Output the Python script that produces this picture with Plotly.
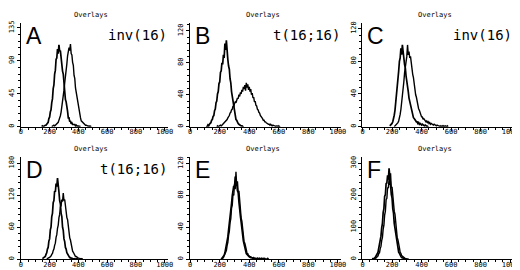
import plotly.graph_objects as go

# ---------------- data (histogram counts, channel step 5) ----------------
STEP = 5

# Panel A  inv(16)
a1_start = 145
a1 = [0, 1, 0, 1, 1, 2, 2, 3, 5, 6, 11, 13, 20, 23, 33, 38, 52, 57, 72, 77, 92, 94, 106, 100,
      112, 103, 104, 92, 91, 76, 72, 56, 52, 37, 34, 22, 21, 12, 12, 7, 8, 4, 5, 3, 3, 2, 3, 1,
      2, 1, 1, 0, 1, 0, 0]
a2_start = 215
a2 = [0, 1, 1, 2, 1, 2, 3, 3, 5, 6, 9, 11, 15, 20, 26, 33, 42, 50, 60, 67, 80, 86, 97, 101,
      108, 104, 113, 100, 98, 88, 84, 70, 66, 53, 47, 37, 31, 24, 19, 14, 12, 8, 7, 5, 4, 3,
      3, 2, 2, 1, 1, 1, 0, 1, 0, 0]

# Panel B  t(16;16)
b1_start = 110
b1 = [1, 0, 2, 1, 3, 4, 5, 8, 9, 13, 14, 20, 22, 30, 32, 41, 44, 54, 56, 68, 70, 80, 78, 90,
      86, 104, 96, 108, 88, 84, 76, 72, 60, 55, 44, 38, 29, 24, 17, 14, 9, 8, 5, 4, 3, 2, 2,
      1, 1, 0, 1]
b2_start = 180
b2 = [0, 1, 0, 1, 1, 2, 1, 2, 3, 3, 4, 5, 6, 8, 9, 11, 12, 14, 17, 18, 21, 22, 26, 25, 29,
      31, 30, 34, 36, 35, 40, 38, 43, 41, 46, 44, 50, 47, 52, 45, 55, 49, 53, 46, 50, 44, 47,
      40, 42, 36, 37, 31, 32, 27, 26, 22, 21, 18, 17, 14, 13, 11, 10, 8, 8, 6, 6, 5, 4, 4, 3,
      3, 2, 3, 2, 1, 2, 1, 1, 1, 0, 1, 1, 0, 1, 0, 0]

# Panel C  inv(16)
c1_start = 185
c1 = [1, 2, 2, 4, 6, 9, 14, 20, 28, 38, 48, 60, 68, 80, 84, 96, 88, 100, 86, 84, 76, 72, 62,
      57, 48, 43, 35, 31, 24, 21, 16, 14, 11, 10, 8, 7, 6, 6, 4, 5, 3, 4, 3, 2, 3, 2, 2, 1, 2,
      1, 1, 0, 1]
c2_start = 215
c2 = [0, 1, 1, 2, 3, 5, 7, 10, 15, 21, 28, 36, 46, 55, 66, 72, 84, 86, 100, 88, 92, 84, 86,
      76, 73, 64, 60, 50, 47, 39, 36, 29, 27, 22, 20, 16, 15, 12, 12, 9, 10, 8, 8, 6, 7, 5, 6,
      4, 5, 3, 4, 3, 3, 2, 3, 2, 2, 1, 2, 1, 1, 1, 0, 1, 0, 1, 0, 1, 0, 1, 0, 0, 1, 0]

# Panel D  t(16;16)
d1_start = 150
d1 = [1, 2, 2, 4, 5, 9, 12, 19, 22, 34, 38, 55, 60, 80, 86, 106, 110, 128, 126, 142, 136,
      152, 128, 126, 110, 104, 86, 80, 60, 54, 38, 33, 22, 19, 12, 10, 6, 5, 3, 3, 1, 2, 1, 1,
      0, 1, 0, 0, 1, 0, 0]
d2_start = 180
d2 = [1, 1, 2, 3, 3, 5, 6, 9, 11, 16, 19, 26, 30, 41, 46, 58, 64, 78, 84, 98, 100, 112, 108,
      124, 110, 112, 96, 94, 78, 74, 58, 52, 40, 36, 26, 22, 15, 13, 9, 8, 5, 5, 3, 3, 2, 2, 1,
      1, 0, 1, 0]

# Panel E
e1_start = 210
e1 = [0, 1, 2, 3, 5, 8, 12, 16, 23, 28, 37, 44, 53, 62, 70, 80, 84, 92, 90, 104, 94, 96, 86,
      84, 72, 66, 54, 47, 37, 31, 23, 19, 13, 11, 7, 6, 4, 4, 3, 2, 2, 2, 1, 1, 1, 1, 0, 1, 0,
      1, 0, 0, 1, 0, 0, 1, 0, 0, 0, 1, 0, 0, 0, 1, 0]
e2_start = 215
e2 = [1, 1, 2, 4, 5, 9, 11, 17, 21, 30, 35, 46, 51, 64, 68, 82, 80, 94, 88, 110, 92, 98, 84,
      86, 70, 68, 52, 48, 36, 32, 22, 20, 12, 12, 7, 7, 4, 4, 3, 3, 2, 2, 1, 2, 1, 1, 1, 0, 1,
      0, 1, 0, 0, 1, 0, 0, 1, 0]

# Panel F
f1_start = 65
f1 = [1, 1, 2, 3, 5, 8, 11, 17, 22, 34, 42, 60, 72, 98, 112, 146, 158, 196, 202, 236, 238,
      262, 248, 284, 236, 232, 202, 192, 158, 144, 112, 98, 72, 60, 42, 34, 22, 18, 10, 9, 5,
      4, 2, 2, 1, 1, 0, 1, 0]
f2_start = 75
f2 = [1, 2, 2, 4, 5, 9, 10, 18, 20, 33, 40, 58, 68, 94, 106, 138, 150, 186, 190, 224, 222,
      250, 232, 268, 222, 226, 190, 186, 150, 140, 106, 96, 68, 60, 40, 36, 21, 18, 11, 9, 5,
      4, 3, 2, 1, 1, 1, 0, 0]

panel_letters = ["A", "B", "C", "D", "E", "F"]
panel_labels = ["inv(16)", "t(16;16)", "inv(16)", "t(16;16)", "", ""]
x_ticks = [0, 200, 400, 600, 800, 1000]
y_ticks = [[0, 45, 90, 135], [0, 40, 80, 120], [0, 40, 80, 120],
           [0, 60, 120, 180], [0, 40, 80, 120], [0, 100, 200, 300]]
y_max = [142, 130, 127, 191, 128, 318]
series = [((a1_start, a1), (a2_start, a2)), ((b1_start, b1), (b2_start, b2)),
          ((c1_start, c1), (c2_start, c2)), ((d1_start, d1), (d2_start, d2)),
          ((e1_start, e1), (e2_start, e2)), ((f1_start, f1), (f2_start, f2))]

# ---------------- layout geometry (pixels) ----------------
W, H = 520, 270
col_px = [(11, 160), (183, 336), (358, 511)]
row_px = [(13, 118), (149, 252)]

fig = go.Figure()
mono = "DejaVu Sans Mono"

for i in range(6):
    r, c = divmod(i, 3)
    xa = "xaxis" if i == 0 else f"xaxis{i+1}"
    ya = "yaxis" if i == 0 else f"yaxis{i+1}"
    xref = "x" if i == 0 else f"x{i+1}"
    yref = "y" if i == 0 else f"y{i+1}"
    x0p, x1p = col_px[c]
    t_p, b_p = row_px[r]
    for k, (start, vals) in enumerate(series[i]):
        fig.add_trace(go.Scatter(
            x0=start, dx=STEP, y=vals, mode="lines",
            line=dict(color="black", width=1.7 if k == 0 else 1.4, shape="linear"),
            xaxis=xref, yaxis=yref, showlegend=False, hoverinfo="skip"))
    fig.layout[xa] = dict(
        domain=[x0p / W, x1p / W], range=[0, 1020], anchor=yref,
        showline=True, linecolor="black", linewidth=1, showgrid=False, zeroline=False,
        tickvals=x_ticks, ticks="outside", ticklen=3, tickcolor="black",
        ticklabelstandoff=-5,
        minor=dict(ticks="outside", ticklen=2, dtick=50, tickcolor="black"),
        tickfont=dict(family=mono, size=7, color="black"))
    ymax = y_max[i]
    yt = y_ticks[i]
    fig.layout[ya] = dict(
        domain=[1 - b_p / H, 1 - t_p / H], range=[0, ymax], anchor=xref,
        showline=True, linecolor="black", linewidth=1, showgrid=False, zeroline=False,
        tickvals=yt, ticks="outside", ticklen=3, tickcolor="black", tickangle=-90,
        minor=dict(ticks="outside", ticklen=2, dtick=(yt[1] - yt[0]) / 5, tickcolor="black"),
        tickfont=dict(family=mono, size=7, color="black"))
    # title
    fig.add_annotation(text="Overlays", xref="paper", yref="paper",
                       x=((x0p + x1p) / 2 - 3) / W, y=1 - (t_p - 8) / H,
                       showarrow=False, font=dict(family=mono, size=7, color="black"),
                       xanchor="center", yanchor="middle")
    # panel letter
    fig.add_annotation(text=panel_letters[i], xref="paper", yref="paper",
                       x=(x0p + 3) / W, y=1 - (t_p + 13) / H, showarrow=False,
                       font=dict(family="Liberation Sans", size=23, color="black"),
                       xanchor="left", yanchor="middle")
    if panel_labels[i]:
        fig.add_annotation(text=panel_labels[i], xref="paper", yref="paper",
                           x=(x1p + 1) / W, y=1 - (t_p + 12) / H, showarrow=False,
                           font=dict(family=mono, size=14, color="black"),
                           xanchor="right", yanchor="middle")

fig.update_layout(width=W, height=H, margin=dict(l=0, r=0, t=0, b=0),
                  paper_bgcolor="white", plot_bgcolor="white")
fig.write_html("out.html")
